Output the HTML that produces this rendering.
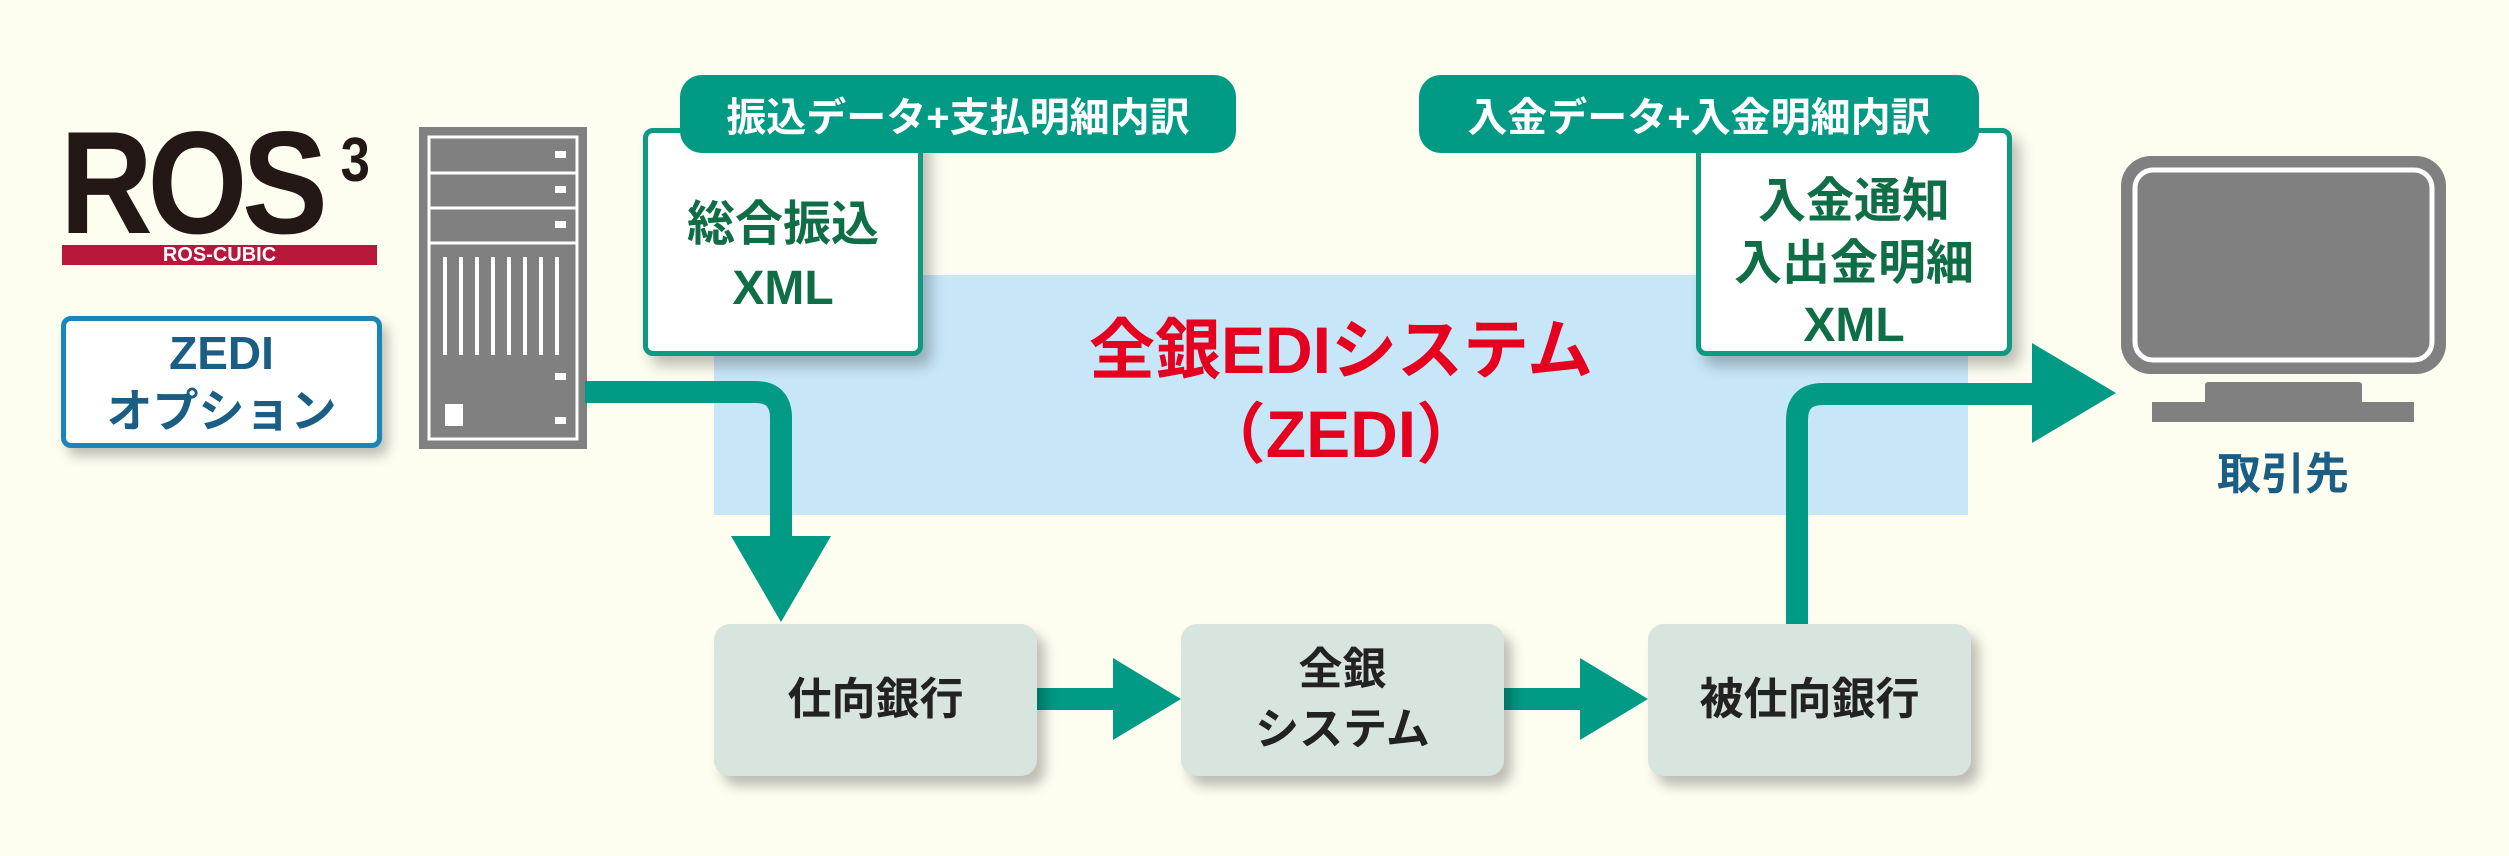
<!DOCTYPE html>
<html><head><meta charset="utf-8"><style>
body{margin:0;width:2509px;height:856px;background:#fdfdf0;position:relative;overflow:hidden;font-family:"Liberation Sans","Noto Sans CJK JP",sans-serif;font-weight:bold}
div{position:absolute;box-sizing:border-box}
.c{display:flex;align-items:center;justify-content:center;text-align:center}
.card{background:#fff;border:5px solid #0d9a80;border-radius:10px;box-shadow:8px 10px 14px rgba(0,0,0,.25);color:#0f6e45;font-size:48px;line-height:64px;flex-direction:column}
.pill{background:#009a85;color:#fff;border-radius:22px;font-size:40px}
.bank{background:#d8e4de;border-radius:16px;box-shadow:8px 10px 12px rgba(0,0,0,.25);color:#222;font-size:44px;line-height:60px;flex-direction:column}
</style></head><body>
<div style="left:714px;top:275px;width:1254px;height:240px;background:#c7e6f8"></div>
<div class="c" style="left:714px;top:308px;width:1254px;flex-direction:column;color:#e60020;font-size:66px;line-height:84px">全銀EDIシステム<br>（ZEDI）</div>

<!-- ROS logo -->
<div style="left:60px;top:108px;font-size:146px;color:#231815;letter-spacing:-6px;line-height:150px;transform:scaleX(0.88);transform-origin:left">ROS</div>
<div style="left:338px;top:128px;font-size:62px;line-height:66px;color:#231815;transform:scaleX(0.85)">3</div>
<div class="c" style="left:62px;top:245px;width:315px;height:20px;background:#b8163a;color:#fff;font-size:20px">ROS-CUBIC</div>
<div class="c" style="left:61px;top:316px;width:321px;height:132px;border:5px solid #1a86b8;border-radius:10px;background:#fff;box-shadow:6px 8px 12px rgba(0,0,0,.25);flex-direction:column;color:#1a5e86;font-size:46px;line-height:58px">ZEDI<br>オプション</div>

<!-- server -->
<svg style="position:absolute;left:419px;top:127px" width="168" height="322">
<rect x="0" y="0" width="168" height="322" fill="#808080"/>
<rect x="10" y="10" width="148" height="302" fill="none" stroke="#fff" stroke-width="3"/>
<line x1="10" y1="46" x2="158" y2="46" stroke="#fff" stroke-width="3"/>
<line x1="10" y1="81" x2="158" y2="81" stroke="#fff" stroke-width="3"/>
<line x1="10" y1="116" x2="158" y2="116" stroke="#fff" stroke-width="3"/>
<rect x="136" y="24" width="11" height="7" fill="#fff"/><rect x="136" y="59" width="11" height="7" fill="#fff"/><rect x="136" y="94" width="11" height="7" fill="#fff"/>
<g stroke="#fff" stroke-width="4"><line x1="26" y1="130" x2="26" y2="228"/><line x1="42" y1="130" x2="42" y2="228"/><line x1="58" y1="130" x2="58" y2="228"/><line x1="74" y1="130" x2="74" y2="228"/><line x1="90" y1="130" x2="90" y2="228"/><line x1="106" y1="130" x2="106" y2="228"/><line x1="122" y1="130" x2="122" y2="228"/><line x1="138" y1="130" x2="138" y2="228"/></g>
<rect x="136" y="246" width="11" height="7" fill="#fff"/><rect x="136" y="290" width="11" height="7" fill="#fff"/>
<rect x="26" y="277" width="18" height="22" fill="#fff"/>
</svg>

<!-- connectors -->
<svg style="position:absolute;left:0;top:0" width="2509" height="856">
<path d="M585 392 H755 Q781 392 781 418 V540" fill="none" stroke="#009a85" stroke-width="22"/>
<polygon points="731,536 831,536 781,622" fill="#009a85"/>
<path d="M1797 624 V420 Q1797 394 1823 394 H2040" fill="none" stroke="#009a85" stroke-width="22"/>
<polygon points="2032,343 2032,443 2116,393" fill="#009a85"/>
<rect x="1037" y="688" width="80" height="22" fill="#009a85"/>
<polygon points="1113,658 1113,740 1181,699" fill="#009a85"/>
<rect x="1504" y="688" width="80" height="22" fill="#009a85"/>
<polygon points="1580,658 1580,740 1648,699" fill="#009a85"/>
<!-- monitor -->
<rect x="2121" y="156" width="325" height="218" rx="30" fill="#808080"/>
<rect x="2135" y="170" width="297" height="190" rx="18" fill="none" stroke="#fff" stroke-width="5"/>
<rect x="2146" y="185" width="275" height="160" fill="#808080"/>
<rect x="2205" y="382" width="157" height="24" rx="3" fill="#808080"/>
<rect x="2152" y="402" width="262" height="20" fill="#808080"/>
</svg>
<div class="c" style="left:2183px;top:440px;width:200px;height:60px;color:#1a5e86;font-size:44px">取引先</div>

<div class="card c" style="left:643px;top:128px;width:280px;height:228px;padding-top:30px">総合振込<br>XML</div>
<div class="pill c" style="left:680px;top:75px;width:556px;height:78px">振込データ+支払明細内訳</div>
<div class="card c" style="left:1696px;top:128px;width:316px;height:228px;padding-top:44px;line-height:62px">入金通知<br>入出金明細<br>XML</div>
<div class="pill c" style="left:1419px;top:75px;width:560px;height:78px">入金データ+入金明細内訳</div>

<div class="bank c" style="left:714px;top:624px;width:323px;height:152px">仕向銀行</div>
<div class="bank c" style="left:1181px;top:624px;width:323px;height:152px">全銀<br>システム</div>
<div class="bank c" style="left:1648px;top:624px;width:323px;height:152px">被仕向銀行</div>
</body></html>
